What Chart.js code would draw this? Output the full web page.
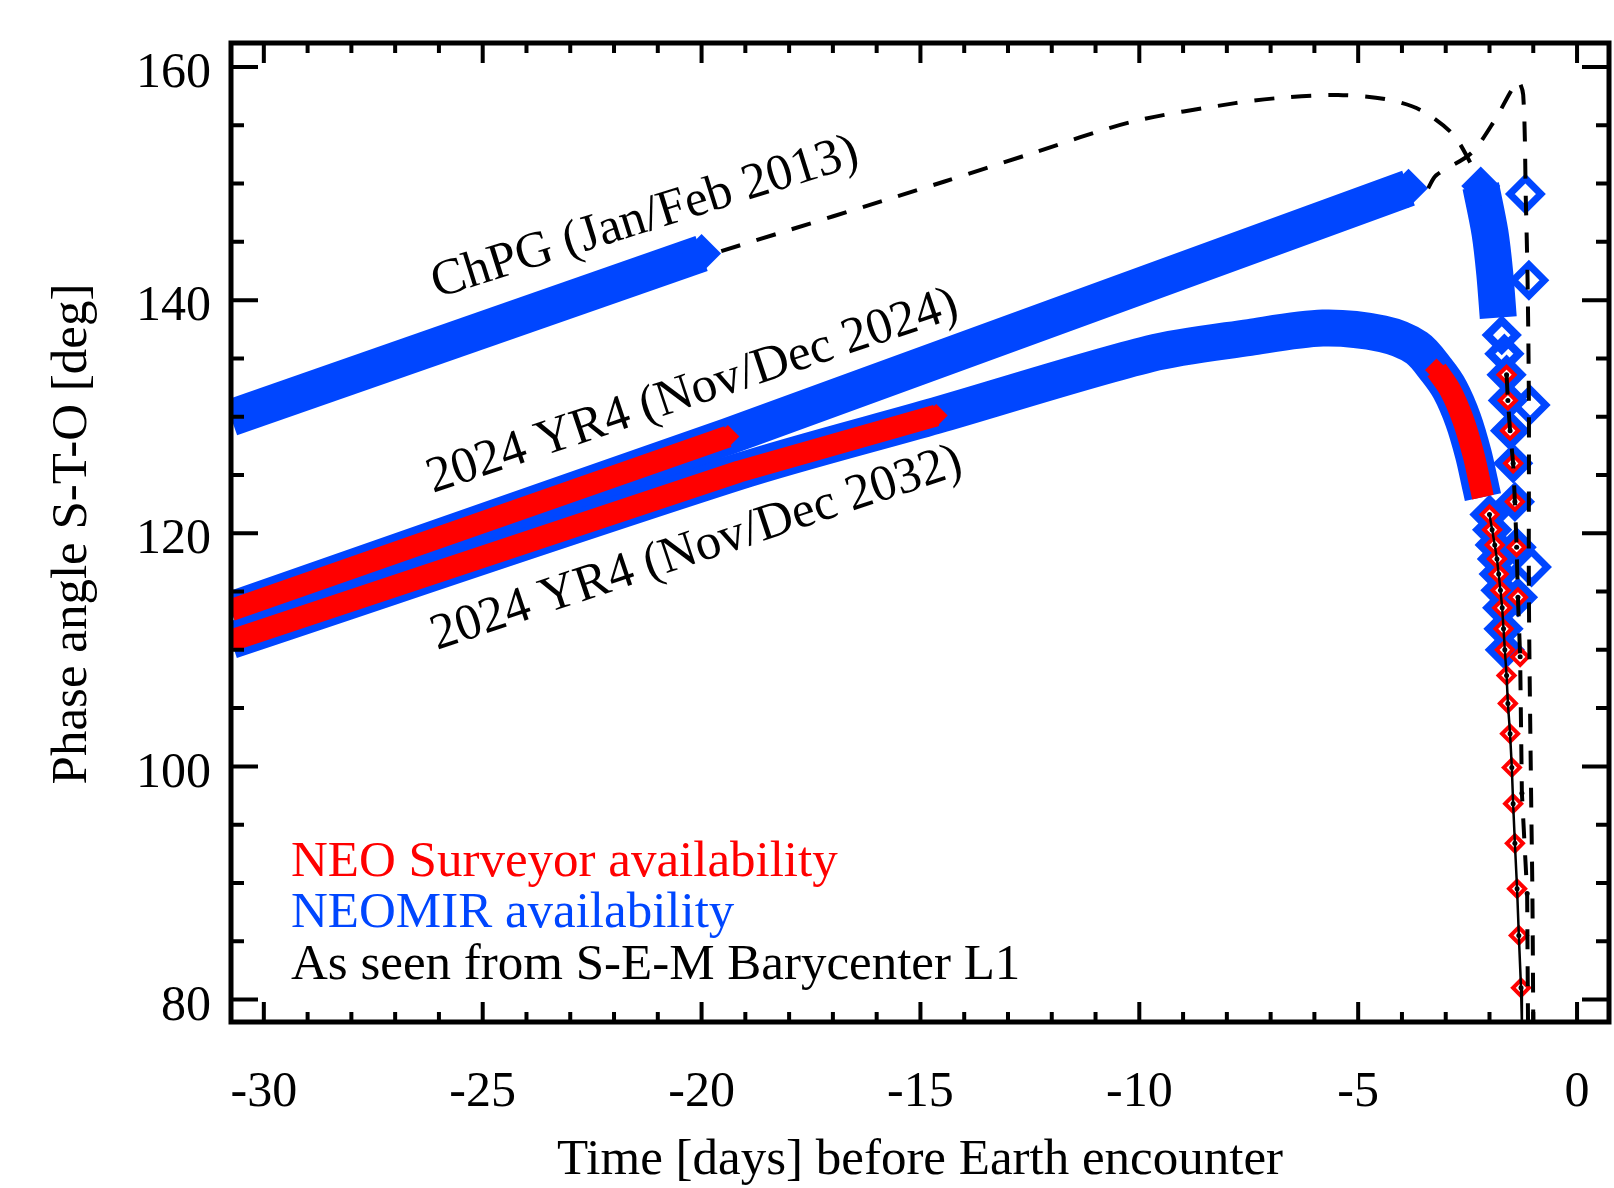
<!DOCTYPE html>
<html>
<head>
<meta charset="utf-8">
<script src="https://cdn.jsdelivr.net/npm/chart.js@4"></script>
<style>
  html, body { margin: 0; padding: 0; background: #fff; }
  canvas { display: block; }
</style>
</head>
<body>
<canvas id="phaseChart" width="1614" height="1188"></canvas>
<script>
// axis ticks
var xMajorTicks = [-30, -25, -20, -15, -10, -5, 0];
var xMinorTicks = [-29, -28, -27, -26, -24, -23, -22, -21, -19, -18, -17, -16, -14, -13, -12, -11, -9, -8, -7, -6, -4, -3, -2, -1];
var yMajorTicks = [80, 100, 120, 140, 160];
var yMinorTicks = [85, 90, 95, 105, 110, 115, 125, 130, 135, 145, 150, 155];

// ChPG (Jan/Feb 2013)
var chpgBandX = [-30.75, -20.0];
var chpgBandY = [129.9, 144.0];
var chpgDashX = [-19.55, -14.43, -12.53, -10.17, -7.81, -6.64, -5.46, -4.39, -3.57, -2.83, -2.35];
var chpgDashY = [144.2, 150.2, 152.5, 155.3, 156.9, 157.4, 157.6, 157.25, 156.3, 154.2, 151.2];
var chpgFallX = [-2.2, -1.99, -1.88, -1.8];
var chpgFallY = [149.8, 145.8, 142.3, 138.5];
var chpgBlueDiaX = [-1.72, -1.66, -1.61, -1.58, -1.53, -1.46, -1.42, -1.38, -1.35];
var chpgBlueDiaY = [137.0, 135.4, 133.6, 131.4, 128.8, 126.0, 122.7, 118.8, 114.5];
var chpgRedDiaX = [-1.61, -1.58, -1.53, -1.46, -1.42, -1.38, -1.35, -1.30];
var chpgRedDiaY = [133.6, 131.4, 128.8, 126.0, 122.7, 118.8, 114.5, 109.4];
var chpgLowX = [-1.61, -1.58, -1.53, -1.46, -1.42, -1.38, -1.35, -1.30, -1.26, -1.14, -1.12];
var chpgLowY = [133.6, 131.4, 128.8, 126.0, 122.7, 118.8, 114.5, 109.4, 97.7, 89.1, 78.0];

// 2024 YR4 (Nov/Dec 2024)
var yr24BandX = [-30.75, -19.4, -3.85];
var yr24BandY = [113.4, 128.3, 149.6];
var yr24RedX = [-30.75, -19.4];
var yr24RedY = [113.4, 128.3];
var yr24DashX = [-3.4, -3.22, -2.42, -1.87, -1.53, -1.35, -1.23, -1.17, -1.13, -1.1, -1.1, -1.05, -1.02, -1.0];
var yr24DashY = [149.6, 150.7, 152.6, 155.5, 157.8, 158.8, 157.6, 148.6, 141.7, 131.0, 114.8, 97.7, 89.1, 78.0];
var yr24BigX = [-1.18, -1.1, -1.07, -1.04];
var yr24BigY = [149.1, 141.7, 131.0, 117.1];

// 2024 YR4 (Nov/Dec 2032)
var yr32BandX = [-30.75, -19.14, -14.64, -9.76, -7.48, -5.81, -4.44, -3.66, -3.21, -2.9, -2.6, -2.37, -2.22, -2.15];
var yr32BandY = [110.8, 125.3, 130.1, 135.4, 136.8, 137.6, 137.1, 135.9, 134.0, 132.3, 129.7, 126.8, 124.3, 123.1];
var yr32RedAX = [-30.75, -19.14, -14.64];
var yr32RedAY = [110.8, 125.3, 130.1];
var yr32RedBX = [-3.21, -2.9, -2.6, -2.37, -2.22, -2.15];
var yr32RedBY = [134.0, 132.3, 129.7, 126.8, 124.3, 123.1];
var yr32BlueDiaX = [-2.0, -1.94, -1.88, -1.83, -1.79, -1.75, -1.71, -1.68, -1.65];
var yr32BlueDiaY = [121.6, 120.3, 119.0, 117.8, 116.5, 115.1, 113.6, 111.8, 110.0];
var yr32RedDiaX = [-2.0, -1.94, -1.88, -1.83, -1.79, -1.75, -1.71, -1.68, -1.65, -1.61, -1.58, -1.53, -1.49, -1.46, -1.42, -1.37, -1.33, -1.28];
var yr32RedDiaY = [121.6, 120.3, 119.0, 117.8, 116.5, 115.1, 113.6, 111.8, 110.0, 107.8, 105.4, 102.8, 99.9, 96.8, 93.4, 89.5, 85.5, 81.0];
var yr32LineX = yr32RedDiaX.concat([-1.26]);
var yr32LineY = yr32RedDiaY.concat([78.0]);

var BLUE = 'rgb(0, 70, 255)';
var RED = 'rgb(255, 0, 0)';
var SERIF = '"Liberation Serif", "Times New Roman", serif';

function pts(xs, ys) {
    return xs.map(function (x, i) { return { x: x, y: ys[i] }; });
}

// thick band drawn as a wide line, with diamond tips at the listed indices
function band(xs, ys, color, width, tipR, tips, tension) {
    return {
        data: pts(xs, ys),
        showLine: true,
        tension: tension || 0,
        borderColor: color,
        borderWidth: width,
        borderJoinStyle: 'round',
        borderCapStyle: 'butt',
        pointStyle: 'rectRot',
        pointRadius: xs.map(function (_, i) { return tips.indexOf(i) >= 0 ? tipR : 0; }),
        pointBackgroundColor: color,
        pointBorderWidth: 0,
        clip: 0,
        order: color === RED ? 2 : 3
    };
}

function diamonds(xs, ys, color, r, bw, fill, order) {
    return {
        data: pts(xs, ys),
        showLine: false,
        pointStyle: 'rectRot',
        pointRadius: r,
        pointBorderWidth: bw,
        pointBorderColor: color,
        pointBackgroundColor: fill,
        clip: 0,
        order: order
    };
}

function curve(xs, ys, dash, width, dotR, tension) {
    return {
        data: pts(xs, ys),
        showLine: true,
        tension: tension || 0,
        borderColor: '#000',
        borderWidth: width,
        borderDash: dash,
        pointRadius: dotR,
        pointStyle: 'circle',
        pointBackgroundColor: '#000',
        pointBorderWidth: 0,
        clip: 0,
        order: 1
    };
}

// box, inward ticks on all four sides, and the x tick labels
var framePlugin = {
    id: 'frame',
    afterDatasetsDraw: function (chart) {
        var ctx = chart.ctx, a = chart.chartArea, xs = chart.scales.x, ys = chart.scales.y;
        ctx.save();
        ctx.strokeStyle = '#000';
        ctx.lineWidth = 4;
        ctx.beginPath();
        function xt(v, len) {
            var p = xs.getPixelForValue(v);
            ctx.moveTo(p, a.bottom); ctx.lineTo(p, a.bottom - len);
            ctx.moveTo(p, a.top); ctx.lineTo(p, a.top + len);
        }
        function yt(v, len) {
            var p = ys.getPixelForValue(v);
            ctx.moveTo(a.left, p); ctx.lineTo(a.left + len, p);
            ctx.moveTo(a.right, p); ctx.lineTo(a.right - len, p);
        }
        xMajorTicks.forEach(function (v) { xt(v, 20); });
        xMinorTicks.forEach(function (v) { xt(v, 10); });
        yMajorTicks.forEach(function (v) { yt(v, 27); });
        yMinorTicks.forEach(function (v) { yt(v, 13); });
        ctx.stroke();
        ctx.lineWidth = 5;
        ctx.strokeRect(a.left, a.top, a.right - a.left, a.bottom - a.top);

        ctx.fillStyle = '#000';
        ctx.font = '50px ' + SERIF;
        ctx.textAlign = 'center';
        ctx.textBaseline = 'alphabetic';
        xMajorTicks.forEach(function (v) {
            ctx.fillText(String(v), xs.getPixelForValue(v), a.bottom + 84);
        });
        ctx.restore();
    }
};

var textPlugin = {
    id: 'texts',
    afterDraw: function (chart) {
        var ctx = chart.ctx;
        ctx.save();
        ctx.fillStyle = '#000';
        ctx.font = '51px ' + SERIF;
        ctx.textBaseline = 'alphabetic';

        // axis titles
        ctx.textAlign = 'center';
        ctx.fillText('Time [days] before Earth encounter', 920, 1174);
        ctx.save();
        ctx.translate(86, 534);
        ctx.rotate(-Math.PI / 2);
        ctx.fillText('Phase angle S-T-O [deg]', 0, 0);
        ctx.restore();

        // curve labels
        ctx.textAlign = 'left';
        [['ChPG (Jan/Feb 2013)', 437, 298, 17.5],
         ['2024 YR4 (Nov/Dec 2024)', 433, 493, 18.5],
         ['2024 YR4 (Nov/Dec 2032)', 437, 650, 18.5]].forEach(function (t) {
            ctx.save();
            ctx.translate(t[1], t[2]);
            ctx.rotate(-t[3] * Math.PI / 180);
            ctx.fillText(t[0], 0, 0);
            ctx.restore();
        });

        // key
        ctx.fillStyle = RED;
        ctx.fillText('NEO Surveyor availability', 291, 876);
        ctx.fillStyle = BLUE;
        ctx.fillText('NEOMIR availability', 291, 927);
        ctx.fillStyle = '#000';
        ctx.fillText('As seen from S-E-M Barycenter L1', 291, 979);
        ctx.restore();
    }
};

function noPad(s) {
    s.paddingLeft = 0; s.paddingRight = 0; s.paddingTop = 0; s.paddingBottom = 0;
}

var ctx = document.getElementById('phaseChart');
var phaseChart = new Chart(ctx, {
    type: 'scatter',
    data: {
        datasets: [
            // black curves (on top)
            curve(chpgDashX, chpgDashY, [20, 17], 4, 0, 0.3),
            curve(chpgLowX, chpgLowY, [20, 17], 4, 2.5, 0),
            curve(yr24DashX, yr24DashY, [20, 17], 4, 0, 0.3),
            curve(yr32LineX, yr32LineY, [], 2.5, 2.5, 0),
            // NEO Surveyor
            band(yr24RedX, yr24RedY, RED, 22, 11.5, [1]),
            band(yr32RedAX, yr32RedAY, RED, 22, 11.5, [2]),
            band(yr32RedBX, yr32RedBY, RED, 22, 11.5, [0], 0.3),
            diamonds(chpgRedDiaX, chpgRedDiaY, RED, 8, 4, '#fff', 2),
            diamonds(yr32RedDiaX, yr32RedDiaY, RED, 8, 4, '#fff', 2),
            // NEOMIR
            band(chpgBandX, chpgBandY, BLUE, 37, 19.5, [1]),
            band(chpgFallX, chpgFallY, BLUE, 37, 19.5, [0], 0.3),
            band(yr24BandX, yr24BandY, BLUE, 37, 19.5, [2]),
            band(yr32BandX, yr32BandY, BLUE, 37, 19.5, [], 0.3),
            diamonds(chpgBlueDiaX, chpgBlueDiaY, BLUE, 14.5, 8, 'rgba(0,0,0,0)', 3),
            diamonds(yr32BlueDiaX, yr32BlueDiaY, BLUE, 14.5, 8, 'rgba(0,0,0,0)', 3),
            diamonds(yr24BigX, yr24BigY, BLUE, 15.5, 7, 'rgba(0,0,0,0)', 3)
        ]
    },
    options: {
        responsive: false,
        devicePixelRatio: 1,
        animation: false,
        events: [],
        layout: { autoPadding: false, padding: { left: 0, right: 5, top: 43, bottom: 0 } },
        plugins: {
            legend: { display: false },
            tooltip: { enabled: false }
        },
        scales: {
            x: {
                type: 'linear',
                min: -30.75,
                max: 0.73,
                grid: { display: false, drawTicks: false },
                border: { display: false },
                afterFit: function (s) { s.height = 166; noPad(s); },
                ticks: { display: false }
            },
            y: {
                type: 'linear',
                min: 78.07,
                max: 162.06,
                grid: { display: false, drawTicks: false },
                border: { display: false },
                afterBuildTicks: function (s) { s.ticks = yMajorTicks.map(function (v) { return { value: v }; }); },
                afterFit: function (s) { s.width = 231; noPad(s); },
                ticks: {
                    padding: 20,
                    labelOffset: 7,
                    color: '#000',
                    font: { family: SERIF, size: 50 },
                    callback: function (v) { return String(v); }
                }
            }
        }
    },
    plugins: [framePlugin, textPlugin]
});
</script>
</body>
</html>
